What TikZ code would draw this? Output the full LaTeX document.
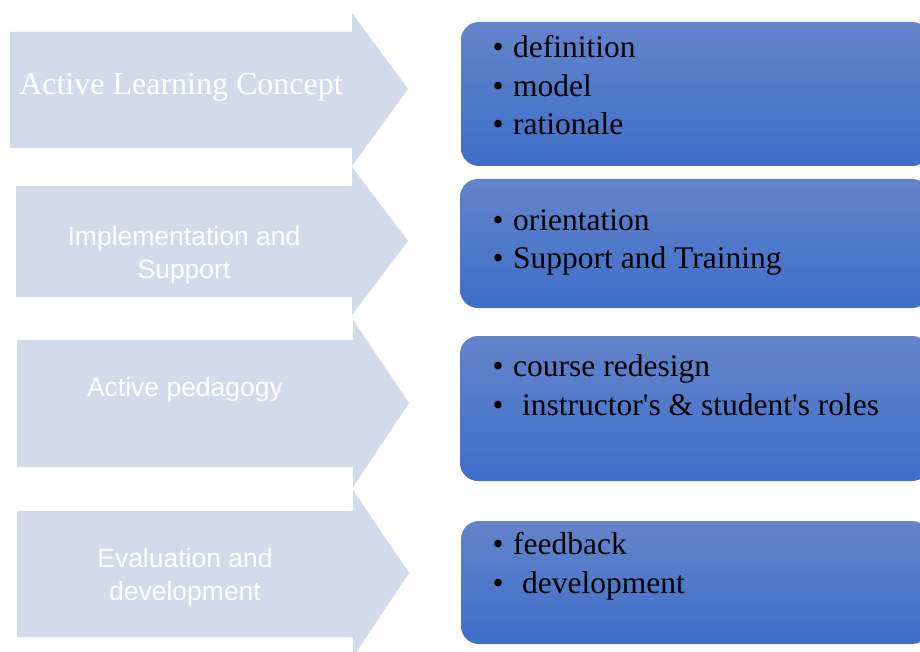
\documentclass[tikz,border=0pt]{standalone}
\usepackage{fontspec}
\setmainfont{Liberation Serif}
\newfontfamily\arialf{Liberation Sans}
\definecolor{arrowfill}{HTML}{D3DAEC}
\definecolor{boxtop}{HTML}{6484CA}
\definecolor{boxbot}{HTML}{3E6EC8}
\begin{document}
\begin{tikzpicture}[x=1pt,y=-1pt,
  arrowshape/.style={fill=arrowfill},
  bluebox/.style={rectangle,rounded corners=18pt,top color=boxtop,bottom color=boxbot,draw=none,inner sep=0pt},
  serifhead/.style={text=white,inner sep=0pt,anchor=base,font=\fontsize{32}{36}\selectfont},
  sanshead/.style={text=white,inner sep=0pt,anchor=base,font=\arialf\fontsize{26.5}{31}\selectfont},
  item/.style={text=black,inner sep=0pt,anchor=base west,font=\fontsize{31.5}{36}\selectfont}]
\useasboundingbox (0,0) rectangle (920,652);
\begin{scope}
\clip (0,0) rectangle (920,652);
% arrows
\fill[arrowshape] (10,32) -- (352,32) -- (352,13) -- (408,89) -- (352,166) -- (352,148) -- (10,148) -- cycle;
\fill[arrowshape] (16,186) -- (352,186) -- (352,167) -- (408,241) -- (352,315) -- (352,297) -- (16,297) -- cycle;
\fill[arrowshape] (17,340) -- (353,340) -- (353,320) -- (409,403) -- (353,487) -- (353,467) -- (17,467) -- cycle;
\fill[arrowshape] (17,511) -- (353,511) -- (353,490) -- (409,573) -- (353,657) -- (353,637) -- (17,637) -- cycle;
% boxes
\path[bluebox] (461,22) rectangle (930,166);
\path[bluebox] (460,179) rectangle (930,308);
\path[bluebox] (460,336) rectangle (930,481);
\path[bluebox] (461,521) rectangle (930,644);
\end{scope}
% arrow labels
\node[serifhead] (t1) at (181,95) {Active Learning Concept};
\node[sanshead] (t2a) at (184,245) {Implementation and};
\node[sanshead] (t2b) at (184,278) {Support};
\node[sanshead] (t3) at (185,396) {Active pedagogy};
\node[sanshead] (t4a) at (185,567) {Evaluation and};
\node[sanshead] (t4b) at (185,600) {development};
% box items
\node[item] (b1a) at (488,58) {\makebox[20pt]{\textbullet}\hspace{5pt}definition};
\node[item] (b1b) at (488,97) {\makebox[20pt]{\textbullet}\hspace{5pt}model};
\node[item] (b1c) at (488,135) {\makebox[20pt]{\textbullet}\hspace{5pt}rationale};
\node[item] (b2a) at (488,231) {\makebox[20pt]{\textbullet}\hspace{5pt}orientation};
\node[item] (b2b) at (488,268) {\makebox[20pt]{\textbullet}\hspace{5pt}Support and Training};
\node[item] (b3a) at (488,376) {\makebox[20pt]{\textbullet}\hspace{5pt}course redesign};
\node[item] (b3b) at (488,415) {\makebox[20pt]{\textbullet}\hspace{14pt}instructor\textquotesingle s \& student\textquotesingle s roles};
\node[item] (b4a) at (488,554) {\makebox[20pt]{\textbullet}\hspace{5pt}feedback};
\node[item] (b4b) at (488,593) {\makebox[20pt]{\textbullet}\hspace{14pt}development};
\end{tikzpicture}
\end{document}
